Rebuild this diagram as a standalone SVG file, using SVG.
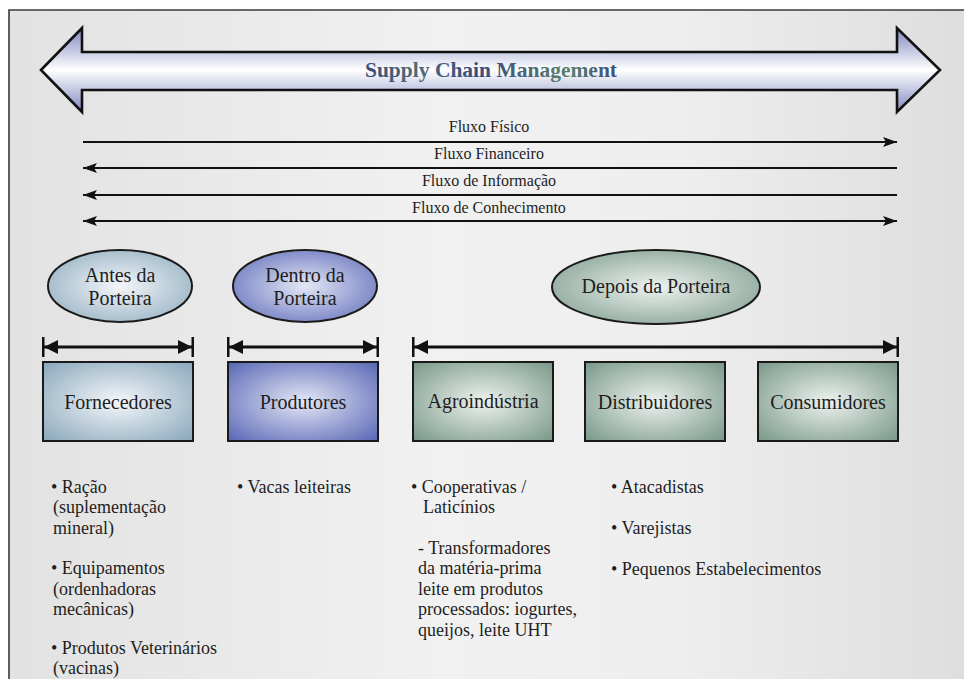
<svg xmlns="http://www.w3.org/2000/svg" width="964" height="679" viewBox="0 0 964 679">
  <defs>
    <linearGradient id="bg" x1="0" y1="0" x2="1" y2="0">
      <stop offset="0" stop-color="#e2e2e2"/>
      <stop offset="0.45" stop-color="#f1f1f1"/>
      <stop offset="0.7" stop-color="#eeeeee"/>
      <stop offset="1" stop-color="#dedede"/>
    </linearGradient>
    <linearGradient id="bigArrow" x1="0" y1="28" x2="0" y2="112" gradientUnits="userSpaceOnUse">
      <stop offset="0" stop-color="#7f88c0"/>
      <stop offset="0.5" stop-color="#ffffff"/>
      <stop offset="1" stop-color="#7f88c0"/>
    </linearGradient>
    <linearGradient id="titleInk" x1="363" y1="0" x2="620" y2="0" gradientUnits="userSpaceOnUse">
      <stop offset="0" stop-color="#3a4a7c"/>
      <stop offset="0.2" stop-color="#4d6a78"/>
      <stop offset="0.45" stop-color="#3a4a7c"/>
      <stop offset="0.8" stop-color="#5a8070"/>
      <stop offset="1" stop-color="#3a4a7c"/>
    </linearGradient>
    <radialGradient id="gBlueGrey" cx="0.5" cy="0.5" r="0.7">
      <stop offset="0" stop-color="#f4f7fa"/>
      <stop offset="1" stop-color="#89a7bb"/>
    </radialGradient>
    <radialGradient id="gViolet" cx="0.5" cy="0.5" r="0.7">
      <stop offset="0" stop-color="#e4e7f6"/>
      <stop offset="1" stop-color="#5866b5"/>
    </radialGradient>
    <radialGradient id="gGreen" cx="0.5" cy="0.5" r="0.7">
      <stop offset="0" stop-color="#eef2ef"/>
      <stop offset="1" stop-color="#789888"/>
    </radialGradient>
    <marker id="flowHead" viewBox="0 0 14 10" refX="14" refY="5" markerWidth="14" markerHeight="10" markerUnits="userSpaceOnUse" orient="auto-start-reverse">
      <path d="M0,0 L14,5 L0,10 L3,5 Z" fill="#111"/>
    </marker>
    <marker id="spanHead" viewBox="0 0 16 20" refX="15" refY="10" markerWidth="16" markerHeight="20" markerUnits="userSpaceOnUse" orient="auto-start-reverse">
      <path d="M0,3 L14,10 L0,17 Z" fill="#111"/>
      <rect x="13.5" y="0" width="2.5" height="20" fill="#111"/>
    </marker>
  </defs>
  <style>
    text { font-family: "Liberation Serif", "Times New Roman", serif; fill: #1e1e1e; }
    .flowLabel { font-size: 16px; text-anchor: middle; }
    .nodeLabel { font-size: 20px; text-anchor: middle; }
    .bullet { font-size: 18px; }
    .flow { stroke: #111; stroke-width: 2; fill: none; }
    .span { stroke: #111; stroke-width: 3; fill: none; }
    .shape { stroke: #1a1a1a; stroke-width: 2; }
  </style>

  <!-- page background and frame -->
  <rect x="0" y="0" width="964" height="679" fill="#ffffff"/>
  <rect x="9" y="10" width="955" height="669" fill="url(#bg)"/>
  <path d="M9,679 L9,10 L964,10" fill="none" stroke="#3a3a3a" stroke-width="1.6"/>

  <!-- supply chain banner -->
  <g id="supply-chain-banner">
    <polygon points="41,70 82,28 82,52 897,52 897,28 940,70 897,112 897,90 82,90 82,112" fill="url(#bigArrow)" stroke="#111" stroke-width="2.6" stroke-linejoin="miter"/>
    <text x="491" y="77" text-anchor="middle" font-weight="bold" font-size="21.5" style="fill:url(#titleInk)">Supply Chain Management</text>
  </g>

  <!-- flows and stage spans -->
  <g id="connectors">
    <line class="flow" x1="83" y1="142" x2="897" y2="142" marker-end="url(#flowHead)"/>
    <line class="flow" x1="83" y1="168" x2="897" y2="168" marker-start="url(#flowHead)"/>
    <line class="flow" x1="83" y1="195" x2="897" y2="195" marker-start="url(#flowHead)"/>
    <line class="flow" x1="83" y1="221" x2="897" y2="221" marker-start="url(#flowHead)" marker-end="url(#flowHead)"/>

    <line class="span" x1="43" y1="347" x2="193" y2="347" marker-start="url(#spanHead)" marker-end="url(#spanHead)"/>
    <line class="span" x1="228" y1="347" x2="378" y2="347" marker-start="url(#spanHead)" marker-end="url(#spanHead)"/>
    <line class="span" x1="413" y1="347" x2="898" y2="347" marker-start="url(#spanHead)" marker-end="url(#spanHead)"/>
  </g>

  <g id="flow-labels">
    <text class="flowLabel" x="489" y="132">Fluxo Físico</text>
    <text class="flowLabel" x="489" y="159">Fluxo Financeiro</text>
    <text class="flowLabel" x="489" y="186">Fluxo de Informação</text>
    <text class="flowLabel" x="489" y="213">Fluxo de Conhecimento</text>
  </g>

  <!-- stages -->
  <g id="antes-da-porteira">
    <ellipse class="shape" cx="120" cy="286" rx="72" ry="36" fill="url(#gBlueGrey)"/>
    <text class="nodeLabel" x="120" y="282">Antes da</text>
    <text class="nodeLabel" x="120" y="305">Porteira</text>
  </g>
  <g id="dentro-da-porteira">
    <ellipse class="shape" cx="305" cy="286" rx="72" ry="36" fill="url(#gViolet)"/>
    <text class="nodeLabel" x="305" y="282">Dentro da</text>
    <text class="nodeLabel" x="305" y="305">Porteira</text>
  </g>
  <g id="depois-da-porteira">
    <ellipse class="shape" cx="656" cy="287" rx="104" ry="37" fill="url(#gGreen)"/>
    <text class="nodeLabel" x="656" y="293">Depois da Porteira</text>
  </g>

  <!-- actors -->
  <g id="fornecedores">
    <rect class="shape" x="43" y="362" width="150" height="79" fill="url(#gBlueGrey)"/>
    <text class="nodeLabel" x="118" y="409">Fornecedores</text>
  </g>
  <g id="produtores">
    <rect class="shape" x="228" y="362" width="150" height="79" fill="url(#gViolet)"/>
    <text class="nodeLabel" x="303" y="409">Produtores</text>
  </g>
  <g id="agroindustria">
    <rect class="shape" x="413" y="362" width="140" height="79" fill="url(#gGreen)"/>
    <text class="nodeLabel" x="483" y="408">Agroindústria</text>
  </g>
  <g id="distribuidores">
    <rect class="shape" x="585" y="362" width="140" height="79" fill="url(#gGreen)"/>
    <text class="nodeLabel" x="655" y="409">Distribuidores</text>
  </g>
  <g id="consumidores">
    <rect class="shape" x="758" y="362" width="140" height="79" fill="url(#gGreen)"/>
    <text class="nodeLabel" x="828" y="409">Consumidores</text>
  </g>

  <!-- descriptions -->
  <g id="notes-fornecedores">
    <text class="bullet" x="51" y="493">• Ração</text>
    <text class="bullet" x="53" y="513">(suplementação</text>
    <text class="bullet" x="53" y="534">mineral)</text>
    <text class="bullet" x="51" y="574">• Equipamentos</text>
    <text class="bullet" x="53" y="595">(ordenhadoras</text>
    <text class="bullet" x="53" y="615">mecânicas)</text>
    <text class="bullet" x="51" y="654">• Produtos Veterinários</text>
    <text class="bullet" x="53" y="674">(vacinas)</text>
  </g>
  <g id="notes-produtores">
    <text class="bullet" x="237" y="493">• Vacas leiteiras</text>
  </g>
  <g id="notes-agroindustria">
    <text class="bullet" x="411" y="493">• Cooperativas /</text>
    <text class="bullet" x="423" y="513">Laticínios</text>
    <text class="bullet" x="418" y="554">- Transformadores</text>
    <text class="bullet" x="418" y="574">da matéria-prima</text>
    <text class="bullet" x="418" y="595">leite em produtos</text>
    <text class="bullet" x="418" y="615">processados: iogurtes,</text>
    <text class="bullet" x="418" y="636">queijos, leite UHT</text>
  </g>
  <g id="notes-distribuidores">
    <text class="bullet" x="611" y="493">• Atacadistas</text>
    <text class="bullet" x="611" y="534">• Varejistas</text>
    <text class="bullet" x="611" y="575">• Pequenos Estabelecimentos</text>
  </g>
</svg>
